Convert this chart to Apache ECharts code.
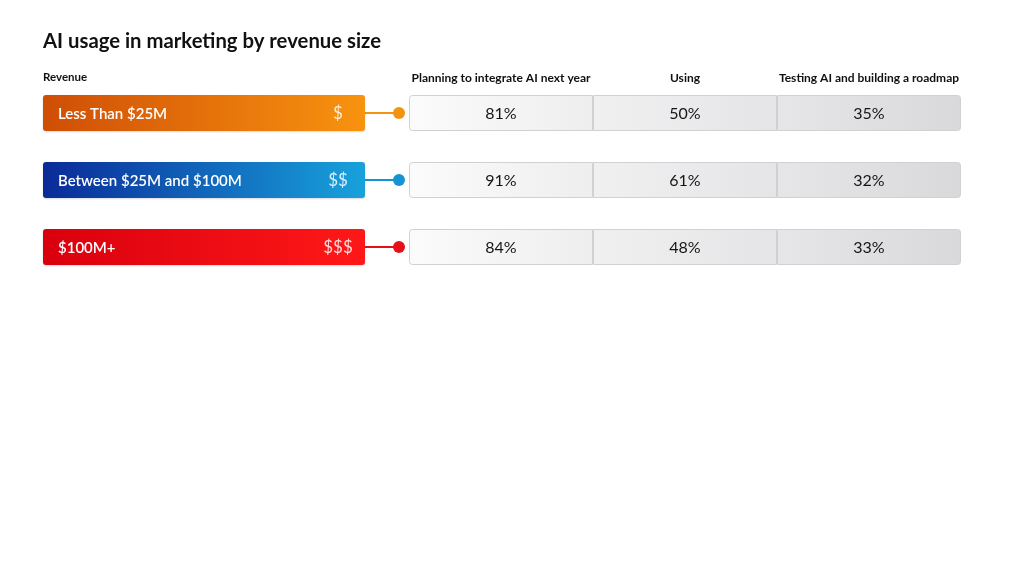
<!DOCTYPE html>
<html>
<head>
<meta charset="utf-8">
<script src="https://cdn.jsdelivr.net/npm/echarts@6/dist/echarts.min.js"></script>
<style>
html,body{margin:0;padding:0;background:#fff;}
#chart{width:1024px;height:574px;}
</style>
</head>
<body>
<div id="chart"></div>
<script>
// ---- data ----
const titleText = 'AI usage in marketing by revenue size';
const revenueHeader = 'Revenue';
const categories = ['Less Than $25M', 'Between $25M and $100M', '$100M+'];
const tiers = ['$', '$$', '$$$'];
const columns = ['Planning to integrate AI next year', 'Using', 'Testing AI and building a roadmap'];
const planning = [81, 91, 84];
const usingAI = [50, 61, 48];
const testing = [35, 32, 33];

// ---- styles ----
const FONT = 'Lato, "Noto Sans", sans-serif';
const barGradients = [
  ['#cf4e06', '#f8930f'],
  ['#0a2a98', '#18a2dc'],
  ['#d9000e', '#ff1818']
];
const dotColors = ['#f39410', '#1793d3', '#e5101a'];
const cellGradients = [
  ['#fbfbfc', '#eeeeef'],
  ['#f0f0f1', '#e5e5e7'],
  ['#e6e6e8', '#d9d9db']
];

const seriesCols = [planning, usingAI, testing];
const cellData = [];
seriesCols.forEach((arr, c) => arr.forEach((v, r) => cellData.push([c, r, v])));
const revData = categories.map((name, i) => [1, i]);

const chart = echarts.init(document.getElementById('chart'));
chart.setOption({
  backgroundColor: '#fff',
  animation: false,
  title: [
    { text: titleText, left: 38, top: 26, textStyle: { fontFamily: FONT, fontSize: 20.3, fontWeight: 'bold', color: '#111' } },
    { text: revenueHeader, left: 38, top: 66, textStyle: { fontFamily: FONT, fontSize: 11.5, fontWeight: 'bold', color: '#111' } }
  ],
  grid: [
    { left: 43, right: 1024 - 365, top: 113, height: 134 },
    { left: 409, right: 1024 - 961, top: 113, height: 134 }
  ],
  xAxis: [
    { gridIndex: 0, type: 'value', min: 0, max: 1, show: false },
    { gridIndex: 1, type: 'category', position: 'top', data: columns,
      axisLine: { show: false }, axisTick: { show: false }, splitLine: { show: false },
      axisLabel: { interval: 0, hideOverlap: false, margin: 29, fontFamily: FONT, fontSize: 12, fontWeight: 'bold', color: '#111' } }
  ],
  yAxis: [
    { gridIndex: 0, type: 'category', data: categories, inverse: true, boundaryGap: false, show: false },
    { gridIndex: 1, type: 'category', data: categories, inverse: true, boundaryGap: false, show: false }
  ],
  series: [
    {
      type: 'custom', xAxisIndex: 0, yAxisIndex: 0, clip: false, data: revData,
      renderItem: function (params, api) {
        const row = api.value(1);
        const p0 = api.coord([0, row]);
        const p1 = api.coord([api.value(0), row]);
        const h = 36;
        const g = barGradients[row];
        return { type: 'group', children: [
          { type: 'line', shape: { x1: p1[0], y1: p1[1], x2: p1[0] + 34, y2: p1[1] },
            style: { stroke: dotColors[row], lineWidth: 2 } },
          { type: 'circle', shape: { cx: p1[0] + 34, cy: p1[1], r: 6 }, style: { fill: dotColors[row] } },
          { type: 'rect', shape: { x: p0[0], y: p0[1] - h / 2, width: p1[0] - p0[0], height: h, r: 3 },
            style: { fill: { type: 'linear', x: 0, y: 0, x2: 1, y2: 0,
              colorStops: [{ offset: 0, color: g[0] }, { offset: 1, color: g[1] }] },
              shadowBlur: 2, shadowColor: 'rgba(0,0,0,0.15)', shadowOffsetY: 1 } },
          { type: 'text', style: { text: categories[row], x: p0[0] + 15, y: p0[1] + 1, align: 'left', verticalAlign: 'middle',
            font: '600 15px ' + FONT, fill: '#fff' } },
          { type: 'text', style: { text: tiers[row], x: p1[0] - 27, y: p1[1] + 1, align: 'center', verticalAlign: 'middle',
            font: '17px ' + FONT, fill: 'rgba(255,255,255,0.85)' } }
        ] };
      }
    },
    {
      type: 'custom', xAxisIndex: 1, yAxisIndex: 1, clip: false, data: cellData,
      renderItem: function (params, api) {
        const col = api.value(0), row = api.value(1), v = api.value(2);
        const c = api.coord([col, row]);
        const bw = api.size([1, 0])[0];
        const h = 36;
        const g = cellGradients[col];
        const r = col === 0 ? [3, 0, 0, 3] : (col === columns.length - 1 ? [0, 3, 3, 0] : 0);
        return { type: 'group', children: [
          { type: 'rect', shape: { x: c[0] - bw / 2 + 0.5, y: c[1] - h / 2 + 0.5, width: bw - 1, height: h - 1, r: r },
            style: { fill: { type: 'linear', x: 0, y: 0, x2: 1, y2: 0,
              colorStops: [{ offset: 0, color: g[0] }, { offset: 1, color: g[1] }] },
              stroke: '#d0d1d3', lineWidth: 1 } },
          { type: 'text', style: { text: v + '%', x: c[0], y: c[1] + 1, align: 'center', verticalAlign: 'middle',
            font: '16px ' + FONT, fill: '#151515' } }
        ] };
      }
    }
  ]
});
</script>
</body>
</html>
